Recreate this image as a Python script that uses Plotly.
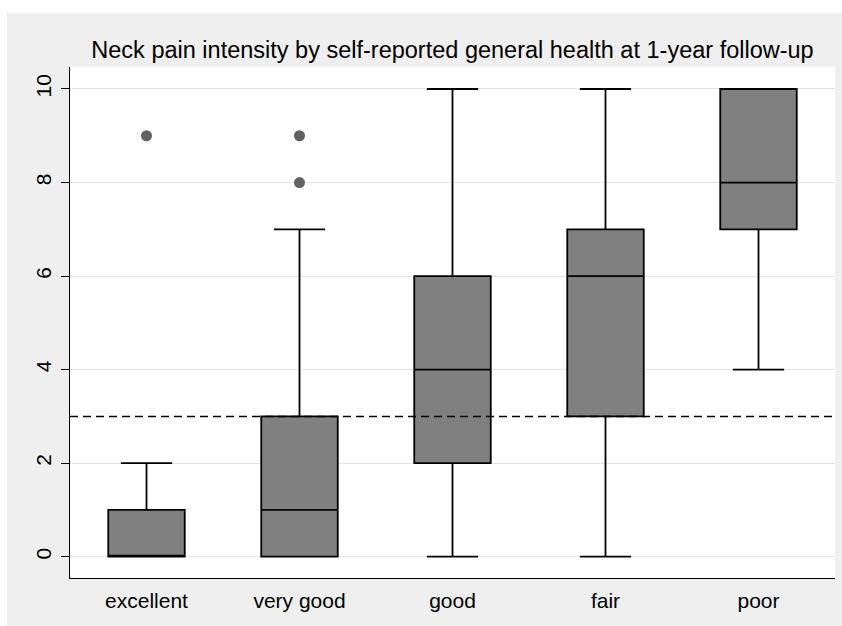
import plotly.graph_objects as go

# Neck pain intensity (0-10) by self-reported general health, 1-year follow-up
categories = ["excellent", "very good", "good", "fair", "poor"]
lower_whisker = [0, 0, 0, 0, 4]
q1 = [0, 0, 2, 3, 7]
median = [0, 1, 4, 6, 8]
q3 = [1, 3, 6, 7, 10]
upper_whisker = [2, 7, 10, 10, 10]

# Outside values
outlier_cat = ["excellent", "very good", "very good"]
outlier_val = [9, 9, 8]

# Reference cut-off
threshold = 3

y_ticks = [0, 2, 4, 6, 8, 10]

FONT = "Liberation Sans, Arial, Helvetica, sans-serif"
BG = "#EFEFEF"

fig = go.Figure()

fig.add_trace(go.Box(
    x=categories,
    q1=q1,
    median=median,
    q3=q3,
    lowerfence=lower_whisker,
    upperfence=upper_whisker,
    width=0.5,
    whiskerwidth=0.67,
    fillcolor="#808080",
    line=dict(color="#000000", width=1.8),
    boxpoints=False,
    showlegend=False,
))

fig.add_trace(go.Scatter(
    x=outlier_cat,
    y=outlier_val,
    mode="markers",
    marker=dict(color="#616161", size=11, line=dict(width=0)),
    showlegend=False,
))

fig.add_hline(y=threshold, line=dict(color="#000000", width=1.5, dash="8px,5px"),
              layer="above")

# white page strip around the grey graph region (left and top edges)
L, R, T, B = 70, 7, 67, 48
W, H = 842 - L - R, 626 - T - B
def px_x(px):
    return (px - L) / W
def px_y(py):
    return (626 - B - py) / H

fig.add_shape(type="rect", xref="paper", yref="paper",
              x0=px_x(-5), x1=px_x(7), y0=px_y(640), y1=px_y(-5),
              fillcolor="white", line=dict(width=0), layer="below")
fig.add_shape(type="rect", xref="paper", yref="paper",
              x0=px_x(-5), x1=px_x(850), y0=px_y(13), y1=px_y(-5),
              fillcolor="white", line=dict(width=0), layer="below")

fig.update_layout(
    width=842, height=626,
    margin=dict(l=L, r=R, t=T, b=B),
    paper_bgcolor=BG,
    plot_bgcolor="white",
    font=dict(family=FONT, color="#000000", size=21),
    title=dict(
        text="Neck pain intensity by self-reported general health at 1-year follow-up",
        font=dict(family=FONT, size=23.5, color="#000000"),
        x=0.5, xref="paper", xanchor="center",
        y=1 - 50 / 626, yref="container", yanchor="middle",
    ),
    showlegend=False,
)

fig.update_xaxes(
    type="category",
    categoryorder="array", categoryarray=categories,
    range=[-0.5, 4.5],
    showline=True, linecolor="#000000", linewidth=1,
    ticks="", showgrid=False, zeroline=False,
    tickfont=dict(family=FONT, size=21),
    ticklabelstandoff=4,
)

fig.update_yaxes(
    range=[-0.455, 10.47],
    tickvals=y_ticks,
    ticktext=[str(v) for v in y_ticks],
    tickangle=-90,
    showline=True, linecolor="#000000", linewidth=1,
    ticks="outside", ticklen=8, tickwidth=1, tickcolor="#000000",
    showgrid=True, gridcolor="#E4E4E4", gridwidth=1.3,
    zeroline=False,
    tickfont=dict(family=FONT, size=21),
    ticklabelstandoff=2,
)

fig.write_html("out.html")
